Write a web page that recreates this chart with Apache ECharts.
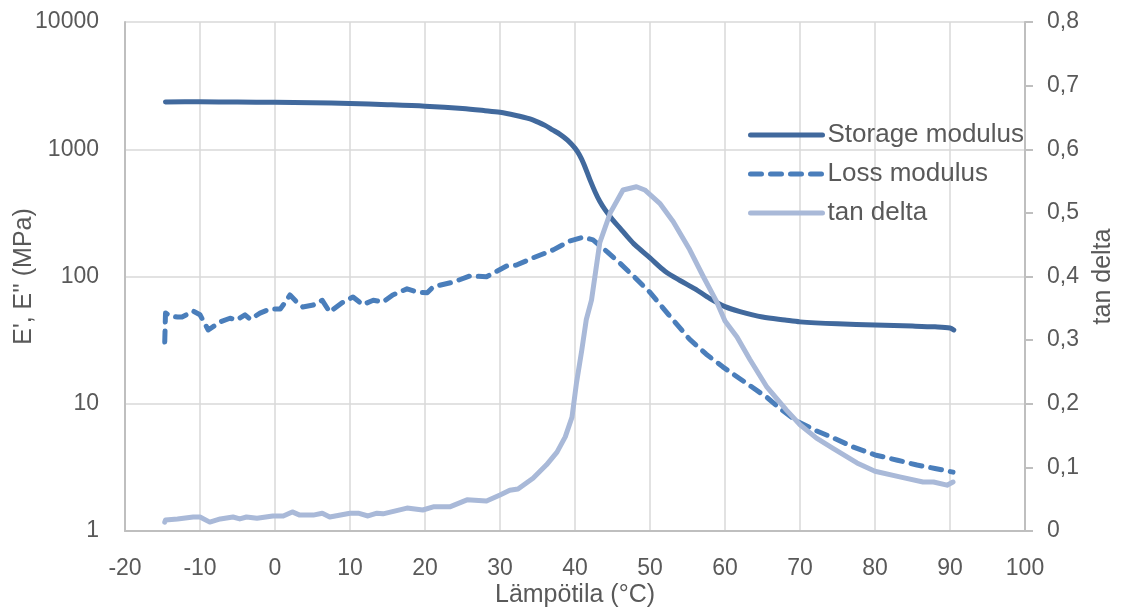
<!DOCTYPE html>
<html>
<head>
<meta charset="utf-8">
<script src="https://cdn.jsdelivr.net/npm/echarts@6/dist/echarts.min.js"></script>
<style>
  html, body { margin: 0; padding: 0; background: #fff; }
  #chart { width: 1121px; height: 610px; }
</style>
</head>
<body>
<div id="chart"></div>
<script>
// Storage modulus E' (MPa)
const storageT = [-14.6, -10, -5, 0, 5, 10, 15, 20, 25, 28, 30, 32, 34, 35, 36, 37, 38, 39, 40, 40.6, 41.2, 42, 42.7, 43.3, 44, 45, 46, 47, 48, 50, 52, 54, 56, 58, 60, 62, 65, 68, 70, 75, 80, 85, 88, 90, 90.5]
const storageE = [2350, 2360, 2350, 2340, 2320, 2290, 2240, 2180, 2090, 2010, 1950, 1850, 1730, 1640, 1540, 1420, 1310, 1180, 1020, 900, 760, 575, 460, 390, 335, 280, 240, 205, 177, 140, 110, 93, 80, 67, 58, 53, 48, 45.5, 44, 42.5, 41.6, 40.8, 40.2, 39.4, 38]

// Loss modulus E'' (MPa)
const lossT = [-14.7, -14.6, -14.0, -13.0, -12.4, -10.9, -10.0, -8.9, -7.3, -6.0, -5.1, -4.0, -3.3, -2.0, -0.7, 0.7, 1.3, 2.0, 2.9, 3.7, 5.1, 6.3, 7.3, 8.9, 10.4, 11.7, 13.1, 14.4, 15.7, 17.6, 18.9, 20.3, 21.1, 23.8, 26, 28.2, 30.9, 32.2, 34.4, 37.1, 39.3, 41.1, 42.4, 44.3, 46, 48, 50, 52.5, 55.3, 57.5, 59.7, 62.5, 65.6, 67.5, 69.6, 72, 74.4, 77, 80, 83, 85.6, 88, 90.4]
const lossE = [30.6, 51.7, 49, 48, 48, 53.5, 50, 38, 44, 47, 45.5, 50, 46, 51.6, 55.5, 55.5, 62, 71.6, 63, 57.6, 59.7, 65, 52.5, 62, 69, 60, 65, 63, 71.6, 80, 75.6, 74.5, 83, 90.5, 101, 99.5, 121, 123, 140, 162, 190, 204, 194, 156, 127, 98, 75, 50, 32, 24.5, 19.5, 15, 11.2, 9, 7.3, 6.2, 5.4, 4.6, 3.96, 3.6, 3.3, 3.1, 2.9]

// tan delta
const tanT = [-14.7, -14.6, -13, -10.9, -10, -8.7, -7.3, -5.6, -4.7, -3.8, -2.4, -0.3, 1.1, 2.3, 3.3, 5.1, 6.3, 7.3, 10, 11.1, 12.4, 13.6, 14.4, 17.6, 19.7, 21.1, 23.3, 25.6, 28.2, 30, 31.3, 32.4, 34.4, 36.2, 37.6, 38.7, 39.6, 40.2, 40.9, 41.5, 42.2, 43.3, 44.7, 46.4, 48.2, 49.3, 51.3, 53.1, 55.3, 57.1, 58.9, 60, 61.6, 63.3, 65.6, 68.2, 70, 72.2, 74.4, 77.6, 80, 83.3, 86.4, 87.8, 89.6, 90.4]
const tanD = [0.014, 0.0173, 0.019, 0.022, 0.022, 0.014, 0.019, 0.022, 0.019, 0.022, 0.020, 0.0236, 0.0236, 0.030, 0.025, 0.025, 0.028, 0.022, 0.028, 0.028, 0.0236, 0.028, 0.027, 0.036, 0.033, 0.038, 0.038, 0.049, 0.047, 0.0566, 0.064, 0.066, 0.083, 0.104, 0.124, 0.148, 0.179, 0.233, 0.284, 0.332, 0.363, 0.453, 0.5, 0.536, 0.541, 0.536, 0.515, 0.486, 0.442, 0.4, 0.36, 0.33, 0.305, 0.27, 0.226, 0.19, 0.167, 0.146, 0.13, 0.107, 0.094, 0.085, 0.077, 0.077, 0.072, 0.077]

const font = 'Liberation Sans'
const textColor = '#595959'
const gridColor = '#D9D9D9'
const axisColor = '#BFBFBF'

const pairs = (xs, ys) => xs.map((x, i) => [x, ys[i]])

const myChart = echarts.init(document.getElementById('chart'))
const option = {
  animation: false,
  textStyle: { fontFamily: font },
  grid: { left: 125, right: 96, top: 22, bottom: 79, containLabel: false, outerBoundsMode: 'none' },
  legend: {
    orient: 'vertical',
    left: 748,
    top: 120,
    padding: 0,
    itemWidth: 72,
    itemHeight: 30,
    itemGap: 9,
    itemTextGap: 7,
    itemStyle: { color: 'rgba(0,0,0,0)', borderWidth: 0, opacity: 0 },
    lineStyle: { width: 5 },
    textStyle: { fontFamily: font, fontSize: 26, color: textColor, lineHeight: 30 },
    data: ['Storage modulus', 'Loss modulus', 'tan delta']
  },
  xAxis: {
    type: 'value',
    min: -20,
    max: 100,
    interval: 10,
    name: 'Lämpötila (°C)',
    nameLocation: 'middle',
    nameGap: 52,
    nameMoveOverlap: false,
    nameTextStyle: { fontFamily: font, fontSize: 25, color: textColor },
    axisLine: { show: true, onZero: false, lineStyle: { color: axisColor, width: 2 } },
    axisTick: { show: false },
    axisLabel: { fontFamily: font, fontSize: 23, color: textColor, margin: 26 },
    splitLine: { show: true, lineStyle: { color: gridColor, width: 1.5 } }
  },
  yAxis: [
    {
      type: 'log',
      logBase: 10,
      min: 1,
      max: 10000,
      name: "E', E'' (MPa)",
      nameLocation: 'middle',
      nameGap: 88,
      nameMoveOverlap: false,
      nameTextStyle: { fontFamily: font, fontSize: 25, color: textColor },
      axisLine: { show: true, onZero: false, lineStyle: { color: axisColor, width: 2 } },
      axisTick: { show: false },
      axisLabel: {
        fontFamily: font,
        fontSize: 23,
        color: textColor,
        margin: 26,
        formatter: v => String(Math.round(v))
      },
      splitLine: { show: true, lineStyle: { color: gridColor, width: 1.5 } }
    },
    {
      type: 'value',
      position: 'right',
      min: 0,
      max: 0.8,
      interval: 0.1,
      name: 'tan delta',
      nameLocation: 'middle',
      nameGap: 66,
      nameMoveOverlap: false,
      nameTextStyle: { fontFamily: font, fontSize: 25, color: textColor },
      axisLine: { show: true, onZero: false, lineStyle: { color: axisColor, width: 2 } },
      axisTick: { show: true, length: 8, lineStyle: { color: axisColor, width: 2 } },
      axisLabel: {
        fontFamily: font,
        fontSize: 23,
        color: textColor,
        margin: 22,
        formatter: v => (v === 0 ? '0' : v.toFixed(1).replace('.', ','))
      },
      splitLine: { show: false }
    }
  ],
  series: [
    {
      name: 'Storage modulus',
      type: 'line',
      yAxisIndex: 0,
      symbol: 'none',
      smooth: 0.3,
      data: pairs(storageT, storageE),
      lineStyle: { color: '#41699D', width: 5, cap: 'round', join: 'round' },
      itemStyle: { color: '#41699D' }
    },
    {
      name: 'Loss modulus',
      type: 'line',
      yAxisIndex: 0,
      symbol: 'none',
      data: pairs(lossT, lossE),
      lineStyle: { color: '#4A7EBB', width: 5, type: [11, 9], cap: 'round', join: 'round' },
      itemStyle: { color: '#4A7EBB' }
    },
    {
      name: 'tan delta',
      type: 'line',
      yAxisIndex: 1,
      symbol: 'none',
      data: pairs(tanT, tanD),
      lineStyle: { color: '#A9B9D8', width: 5, cap: 'round', join: 'round' },
      itemStyle: { color: '#A9B9D8' }
    }
  ]
}
myChart.setOption(option)
</script>
</body>
</html>
